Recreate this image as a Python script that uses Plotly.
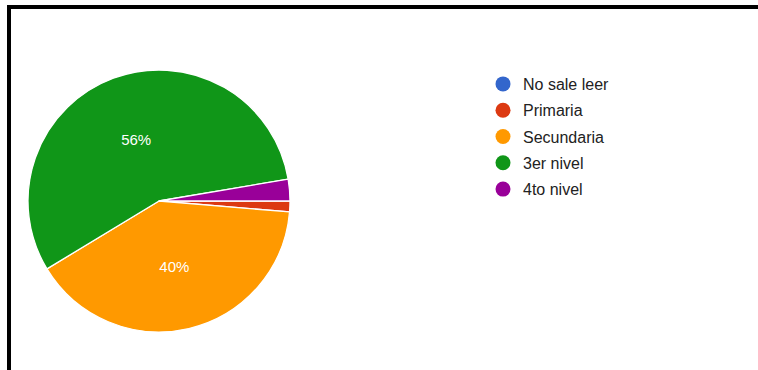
import plotly.graph_objects as go

# Survey answers: education level
categories = ["No sale leer", "Primaria", "Secundaria", "3er nivel", "4to nivel"]
counts = [0, 1, 30, 42, 2]
colors = ["#3366cc", "#dc3912", "#ff9900", "#109618", "#990099"]

total = sum(counts)
# only label slices large enough to hold text
slice_text = [f"{round(100 * c / total)}%" if c / total >= 0.05 else "" for c in counts]

W, H = 758, 370
FONT = "Liberation Sans, Arial, sans-serif"

fig = go.Figure()

fig.add_trace(go.Pie(
    labels=categories,
    values=counts,
    text=slice_text,
    textinfo="text",
    textposition="inside",
    insidetextorientation="horizontal",
    insidetextfont=dict(color="white", size=15, family=FONT),
    marker=dict(colors=colors, line=dict(color="white", width=1.3)),
    sort=False,
    direction="clockwise",
    rotation=90,
    showlegend=False,
    hoverinfo="label+value+percent",
    domain=dict(x=[28 / W, 290 / W], y=[38 / H, 300 / H]),
))

# Legend entries with round markers
for i, (name, col) in enumerate(zip(categories, colors)):
    fig.add_trace(go.Scatter(
        x=[None], y=[None], mode="markers", name=name,
        marker=dict(symbol="circle", size=15, color=col),
        legendgroup=f"g{i}", showlegend=True, hoverinfo="skip",
    ))

fig.update_layout(
    width=W, height=H,
    margin=dict(l=0, r=0, t=0, b=0),
    paper_bgcolor="white",
    plot_bgcolor="white",
    xaxis=dict(visible=False),
    yaxis=dict(visible=False),
    legend=dict(
        x=483 / W, y=(H - 67) / H, xanchor="left", yanchor="top",
        font=dict(size=16, color="#222222", family=FONT),
        tracegroupgap=2.5, traceorder="grouped",
        bgcolor="rgba(0,0,0,0)", borderwidth=0,
    ),
    shapes=[
        # frame: top and left edges
        dict(type="rect", xref="paper", yref="paper",
             x0=7 / W, x1=1, y0=(H - 9) / H, y1=(H - 5) / H,
             fillcolor="black", line=dict(width=0)),
        dict(type="rect", xref="paper", yref="paper",
             x0=7 / W, x1=11 / W, y0=0, y1=(H - 5) / H,
             fillcolor="black", line=dict(width=0)),
    ],
)

fig.write_html("out.html")
